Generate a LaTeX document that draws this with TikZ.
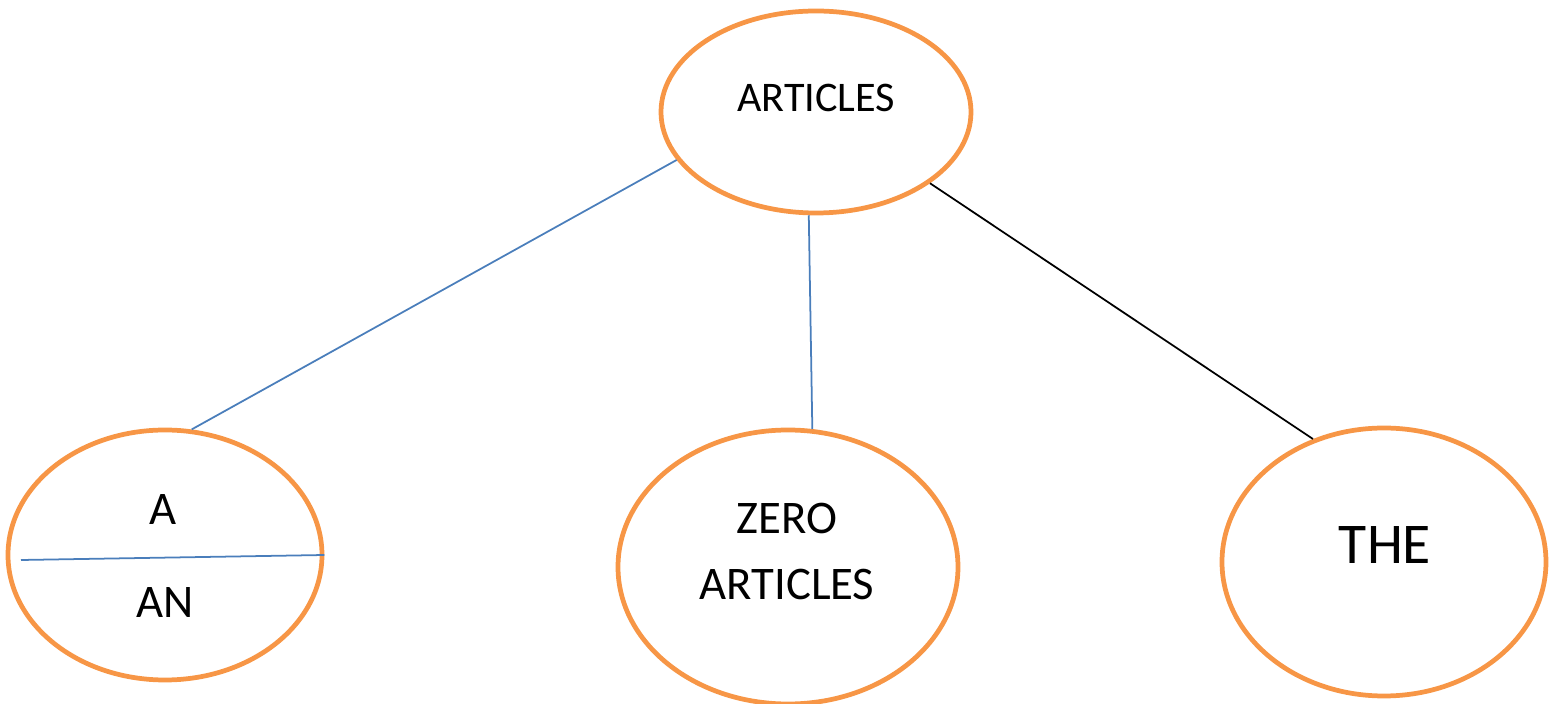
\documentclass[tikz,border=0pt]{standalone}
\usepackage{fontspec}
\setmainfont{Carlito}
\usetikzlibrary{shapes.geometric}
\definecolor{orangebord}{HTML}{F79646}
\definecolor{bleutrait}{HTML}{4A7EBB}
\tikzset{
  bulle/.style={ellipse, draw=orangebord, line width=1.35pt, inner sep=0pt},
  trait/.style={draw=bleutrait, line width=0.5pt},
}
\begin{document}
\begin{tikzpicture}
\useasboundingbox (0,0) rectangle (15.49,7.04);

% Ellipses
\node[bulle, minimum width=3.10cm, minimum height=2.02cm] (articles) at (8.16,5.92) {};
\node[bulle, minimum width=3.14cm, minimum height=2.50cm] (aan) at (1.65,1.49) {};
\node[bulle, minimum width=3.40cm, minimum height=2.74cm] (zero) at (7.88,1.37) {};
\node[bulle, minimum width=3.24cm, minimum height=2.68cm] (the) at (13.84,1.42) {};

% Textes
\node[font=\fontsize{12}{14}\selectfont] (tarticles) at (8.16,6.06) {ARTICLES};
\node[font=\fontsize{13.3}{16}\selectfont] (ta) at (1.63,1.94) {A};
\node[font=\fontsize{13.3}{16}\selectfont] (tan) at (1.65,1.01) {AN};
\node[font=\fontsize{13.3}{19}\selectfont, align=center] (tzero) at (7.87,1.525) {ZERO\\ARTICLES};
\node[font=\fontsize{16.4}{19}\selectfont] (tthe) at (13.85,1.59) {THE};

% Traits
\draw[trait] (articles.199) -- (aan.78);
\draw[trait] (articles.266) -- (zero.80);
\draw[black, line width=0.5pt] (articles.328) -- (the.120);

% Séparation A / AN
\coordinate (aang) at (0.21,1.44);
\draw[trait] (aang) -- (aan.0);

\end{tikzpicture}
\end{document}
